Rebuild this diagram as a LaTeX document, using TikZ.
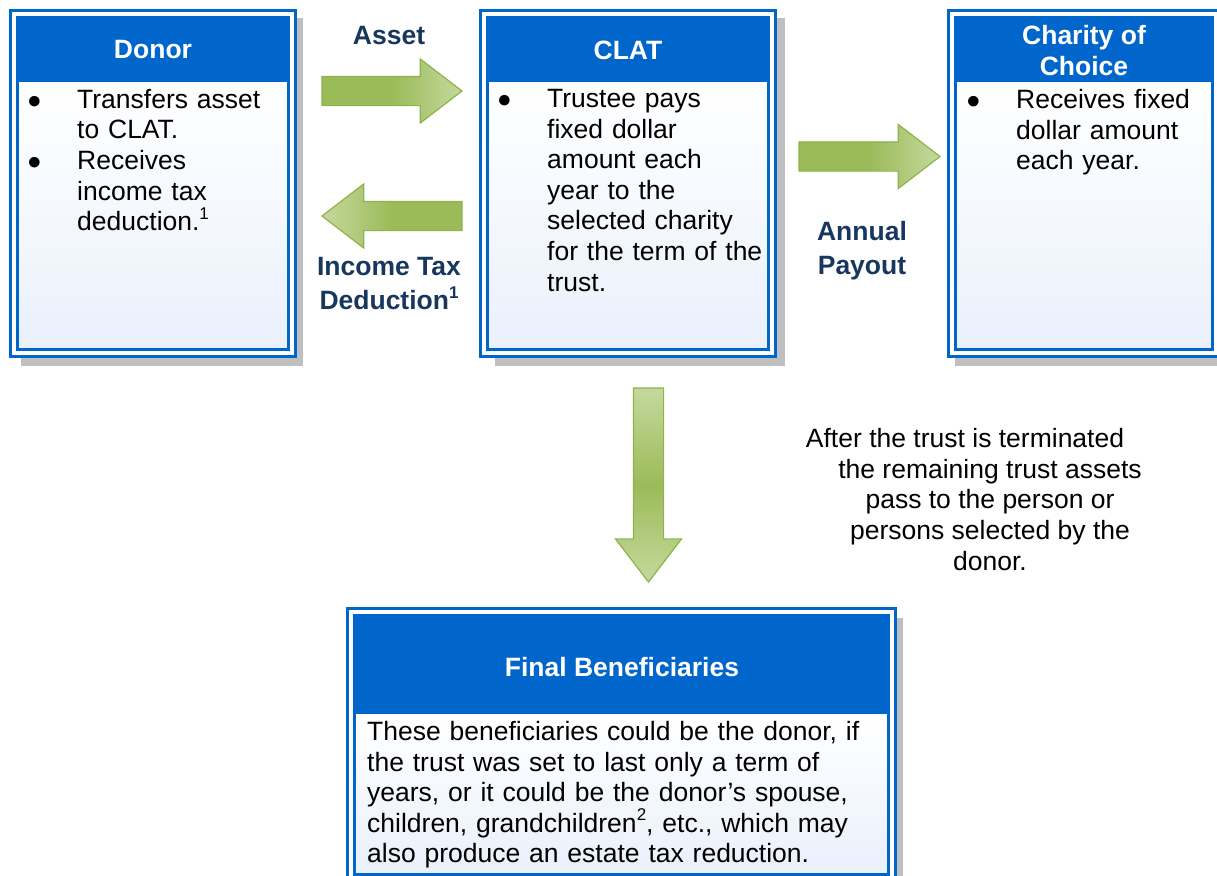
\documentclass[tikz,border=0pt]{standalone}
\usepackage{fontspec}
\setmainfont{Liberation Sans}
\usetikzlibrary{shapes.arrows,positioning}

\definecolor{boxblue}{RGB}{0,102,204}
\definecolor{labelnavy}{RGB}{23,55,94}
\definecolor{shadowgray}{RGB}{191,191,191}
\definecolor{bodyblue}{RGB}{233,240,251}
\definecolor{arrowgreen}{RGB}{155,187,89}
\definecolor{arrowlight}{RGB}{197,217,157}
\definecolor{arrowedge}{RGB}{143,178,76}

\newcommand{\sups}[1]{\raisebox{11.5pt}{\fontsize{17}{17}\selectfont #1}}
\newcommand{\bitem}[1]{\hangindent=49.5pt\hangafter=1\noindent\makebox[49.5pt][l]{\scalebox{1.1}{$\bullet$}}#1\par}

\tikzset{
  boxshadow/.style={fill=shadowgray},
  boxhead/.style={fill=boxblue},
  boxbody/.style={top color=white, bottom color=bodyblue},
  boxframe/.style={draw=boxblue, line width=3.5pt, double=white, double distance=3.5pt},
  headtxt/.style={text=white, font=\bfseries\fontsize{26.5}{31}\selectfont, align=center, inner sep=0pt},
  bodytxt/.style={font=\fontsize{26.5}{30.6}\selectfont, text width=520pt, align=left, inner sep=0pt, anchor=north west},
  flowlabel/.style={text=labelnavy, font=\bfseries\fontsize{26.5}{34.5}\selectfont, align=center, inner sep=0pt},
  aftertxt/.style={font=\fontsize{26.5}{30.7}\selectfont, align=center, inner sep=0pt, anchor=north},
  bigarrow/.style={single arrow, draw=arrowedge, line width=1.2pt, inner sep=14pt, outer sep=0pt,
    single arrow head extend=17.5pt, single arrow tip angle=75, minimum width=63pt, anchor=tail}
}

\begin{document}
\begin{tikzpicture}[x=1pt,y=-1pt]
  \useasboundingbox (0,0) rectangle (1217,875);
  \clip (0,0) rectangle (1217,875);

  % donor
  \fill[boxshadow] (21,18) rectangle (303,366);
  \fill[boxhead] (14,14) rectangle (292,82);
  \shade[boxbody] (14,82) rectangle (292,353);
  \draw[boxframe] (14,14) rectangle (292,353);
  \node[headtxt] (donor) at (153,50) {Donor};
  \node[bodytxt] (donortxt) at (27.5,89) {\bitem{Transfers asset\newline to CLAT.}\bitem{Receives\newline income tax\newline deduction.\sups{1}}};

  % clat
  \fill[boxshadow] (495,18) rectangle (785,366);
  \fill[boxhead] (484,14) rectangle (772,82);
  \shade[boxbody] (484,82) rectangle (772,353);
  \draw[boxframe] (484,14) rectangle (772,353);
  \node[headtxt] (clat) at (628,50) {CLAT};
  \node[bodytxt] (clattxt) at (497.5,89) {\bitem{Trustee pays\newline fixed dollar\newline amount each\newline year to the\newline selected charity\newline for the term of the\newline trust.}};

  % charity
  \fill[boxshadow] (955,18) rectangle (1235,366);
  \fill[boxhead] (952,14) rectangle (1216,82);
  \shade[boxbody] (952,82) rectangle (1216,353);
  \draw[boxframe] (952,14) rectangle (1216,353);
  \node[headtxt] (charity) at (1084,51) {Charity of\\Choice};
  \node[bodytxt] (charitytxt) at (966.5,89) {\bitem{Receives fixed\newline dollar amount\newline each year.}};

  % final beneficiaries
  \fill[boxshadow] (361,618) rectangle (903,885);
  \fill[boxhead] (351,612) rectangle (892,714);
  \shade[boxbody] (351,714) rectangle (892,878);
  \draw[boxframe] (351,612) rectangle (892,878);
  \node[headtxt] (final) at (622,667) {Final Beneficiaries};
  \node[bodytxt] (finaltxt) at (367,721) {These beneficiaries could be the donor, if\newline the trust was set to last only a term of\newline years, or it could be the donor’s spouse,\newline children, grandchildren\sups{2}, etc., which may\newline also produce an estate tax reduction.};

  % arrows
  \node[bigarrow, minimum height=140pt, left color=arrowgreen, right color=arrowlight, middle color=arrowgreen] (assetarrow) at (322,91) {};
  \node[bigarrow, minimum height=140pt, shape border rotate=180, left color=arrowlight, right color=arrowgreen, middle color=arrowgreen] (taxarrow) at (462,216) {};
  \node[bigarrow, minimum height=141pt, left color=arrowgreen, right color=arrowlight, middle color=arrowgreen] (payarrow) at (799,156.5) {};
  \node[bigarrow, minimum height=194pt, minimum width=65pt, inner sep=14.5pt, single arrow head extend=18pt, shape border rotate=270, top color=arrowlight, bottom color=arrowlight, middle color=arrowgreen] (downarrow) at (648.5,388) {};

  \node[flowlabel] (assetlbl) at (389,35.5) {Asset};
  \node[flowlabel] (taxlbl) at (389,283.5) {Income Tax\\Deduction\sups{1}};
  \node[flowlabel] (paylbl) at (862,250.5) {Annual\\Payout};
  \node[aftertxt] (after) at (990,428) {\hspace*{-50pt}After the trust is terminated\\the remaining trust assets\\pass to the person or\\persons selected by the\\donor.};
\end{tikzpicture}
\end{document}
